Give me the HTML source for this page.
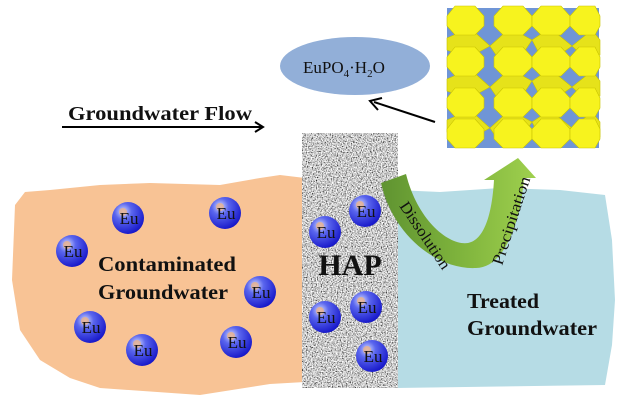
<!DOCTYPE html>
<html><head><meta charset="utf-8"><style>
html,body{margin:0;padding:0;background:#fff;}
svg{display:block;}
text{font-family:"Liberation Serif",serif;}
</style></head><body>
<svg width="633" height="407" viewBox="0 0 633 407" xmlns="http://www.w3.org/2000/svg">
<defs>
<radialGradient id="ball" cx="0.35" cy="0.3" r="0.75">
<stop offset="0" stop-color="#d6dcff"/><stop offset="0.35" stop-color="#5a66ee"/><stop offset="1" stop-color="#1414c8"/>
</radialGradient>
<linearGradient id="grn" x1="0" y1="0" x2="1" y2="0">
<stop offset="0" stop-color="#5f9331"/><stop offset="0.5" stop-color="#7eb33c"/><stop offset="1" stop-color="#9fd04e"/>
</linearGradient>
<filter id="noise" x="302" y="133" width="96" height="255" filterUnits="userSpaceOnUse">
<feTurbulence type="fractalNoise" baseFrequency="0.8" numOctaves="2" seed="3"/>
<feColorMatrix type="matrix" values="2.2 0 0 0 -0.5  2.2 0 0 0 -0.5  2.2 0 0 0 -0.5  0 0 0 0 1"/>
</filter>
<g id="eu"><circle r="16" fill="url(#ball)"/><circle cx="-5" cy="-6" r="4" fill="#e9b08a" opacity="0.8"/><text x="1" y="6" font-size="17" text-anchor="middle" fill="#111">Eu</text></g>
</defs>

<path d="M15,205 L25,192 L50,190 L100,185 L150,183 L220,185 L260,178 L280,175 L305,178 L305,382 L270,384 L200,395 L100,388 L70,378 L40,360 L20,330 L12,280 Z" fill="#f8c395"/>
<path d="M396,190 L440,192 L500,188 L560,190 L605,195 L612,240 L615,300 L612,345 L605,385 L396,388 Z" fill="#b6dce5"/>
<rect x="302" y="133" width="96" height="255" fill="#a0a0a0" filter="url(#noise)"/>

<g>
<rect x="447" y="8" width="152" height="140" fill="#6f95d6"/>
<g fill="#e6e21a" stroke="#c9c400" stroke-width="0.6">
<polygon points="447,38 470,28 490,46 468,58 447,50"/><polygon points="490,46 510,28 532,40 520,58 498,58"/><polygon points="532,40 550,28 572,46 555,58 540,55"/><polygon points="572,46 592,30 600,40 600,55 585,58"/>
<polygon points="447,79 470,69 490,87 468,99 447,91"/><polygon points="490,87 510,69 532,81 520,99 498,99"/><polygon points="532,81 550,69 572,87 555,99 540,96"/><polygon points="572,87 592,71 600,81 600,96 585,99"/>
<polygon points="447,120 470,110 490,128 468,140 447,132"/><polygon points="490,128 510,110 532,122 520,140 498,140"/><polygon points="532,122 550,110 572,128 555,140 540,137"/><polygon points="572,128 592,112 600,122 600,137 585,140"/>
</g>
<g fill="#f7f31e" stroke="#c9c400" stroke-width="0.6">
<polygon points="455,6 475,6 484,16 484,26 475,35 455,35 447,26 447,16"/>
<polygon points="503,6 523,6 532,16 532,26 523,35 503,35 494,26 494,16"/>
<polygon points="541,6 561,6 570,16 570,26 561,35 541,35 532,26 532,16"/>
<polygon points="579,6 595,6 600,16 600,26 595,35 579,35 570,26 570,16"/>
<polygon points="455,47 475,47 484,57 484,67 475,76 455,76 447,67 447,57"/>
<polygon points="503,47 523,47 532,57 532,67 523,76 503,76 494,67 494,57"/>
<polygon points="541,47 561,47 570,57 570,67 561,76 541,76 532,67 532,57"/>
<polygon points="579,47 595,47 600,57 600,67 595,76 579,76 570,67 570,57"/>
<polygon points="455,88 475,88 484,98 484,108 475,117 455,117 447,108 447,98"/>
<polygon points="503,88 523,88 532,98 532,108 523,117 503,117 494,108 494,98"/>
<polygon points="541,88 561,88 570,98 570,108 561,117 541,117 532,108 532,98"/>
<polygon points="579,88 595,88 600,98 600,108 595,117 579,117 570,108 570,98"/>
<polygon points="455,119 475,119 484,129 484,139 475,148 455,148 447,139 447,129"/>
<polygon points="503,119 523,119 532,129 532,139 523,148 503,148 494,139 494,129"/>
<polygon points="541,119 561,119 570,129 570,139 561,148 541,148 532,139 532,129"/>
<polygon points="579,119 595,119 600,129 600,139 595,148 579,148 570,139 570,129"/>
</g>
</g>

<ellipse cx="355" cy="66" rx="75" ry="29" fill="#92afd8"/>
<text x="303" y="73" font-size="17" fill="#111">EuPO<tspan font-size="11" dy="4">4</tspan><tspan dy="-4">·H</tspan><tspan font-size="11" dy="4">2</tspan><tspan dy="-4">O</tspan></text>
<line x1="435" y1="122" x2="374" y2="102" stroke="#000" stroke-width="2"/>
<polyline points="382,98 370,101 378,110" fill="none" stroke="#000" stroke-width="2"/>

<text x="68" y="120" font-size="20" font-weight="bold" fill="#111" textLength="184" lengthAdjust="spacingAndGlyphs">Groundwater Flow</text>
<line x1="62" y1="127" x2="262" y2="127" stroke="#000" stroke-width="2"/>
<polyline points="255,122 263,127 255,132" fill="none" stroke="#000" stroke-width="2"/>

<path d="M381,183 L406,174 C418,222 450,246 468,243 C484,240 492,215 494,180 L484,180 L518,158 L536,178 L524,178 C520,228 502,268 476,268 C438,270 393,236 381,183 Z" fill="url(#grn)"/>
<text transform="translate(399,206) rotate(56)" font-size="16" fill="#111" textLength="78" lengthAdjust="spacingAndGlyphs">Dissolution</text>
<text transform="translate(502,266) rotate(-72)" font-size="16" fill="#111" textLength="92" lengthAdjust="spacingAndGlyphs">Precipitation</text>

<text x="98" y="271" font-size="21" font-weight="bold" fill="#111" textLength="138" lengthAdjust="spacingAndGlyphs">Contaminated</text>
<text x="98" y="299" font-size="21" font-weight="bold" fill="#111" textLength="130" lengthAdjust="spacingAndGlyphs">Groundwater</text>
<text x="350" y="275" font-size="30" font-weight="bold" fill="#111" text-anchor="middle">HAP</text>
<text x="467" y="308" font-size="21" font-weight="bold" fill="#111" textLength="72" lengthAdjust="spacingAndGlyphs">Treated</text>
<text x="467" y="335" font-size="21" font-weight="bold" fill="#111" textLength="130" lengthAdjust="spacingAndGlyphs">Groundwater</text>

<use href="#eu" x="128" y="218"/><use href="#eu" x="225" y="213"/><use href="#eu" x="72" y="251"/>
<use href="#eu" x="260" y="292"/><use href="#eu" x="90" y="327"/><use href="#eu" x="142" y="350"/>
<use href="#eu" x="236" y="342"/>
<use href="#eu" x="365" y="211"/><use href="#eu" x="325" y="232"/><use href="#eu" x="325" y="317"/>
<use href="#eu" x="366" y="307"/><use href="#eu" x="372" y="356"/>
</svg>
</body></html>
